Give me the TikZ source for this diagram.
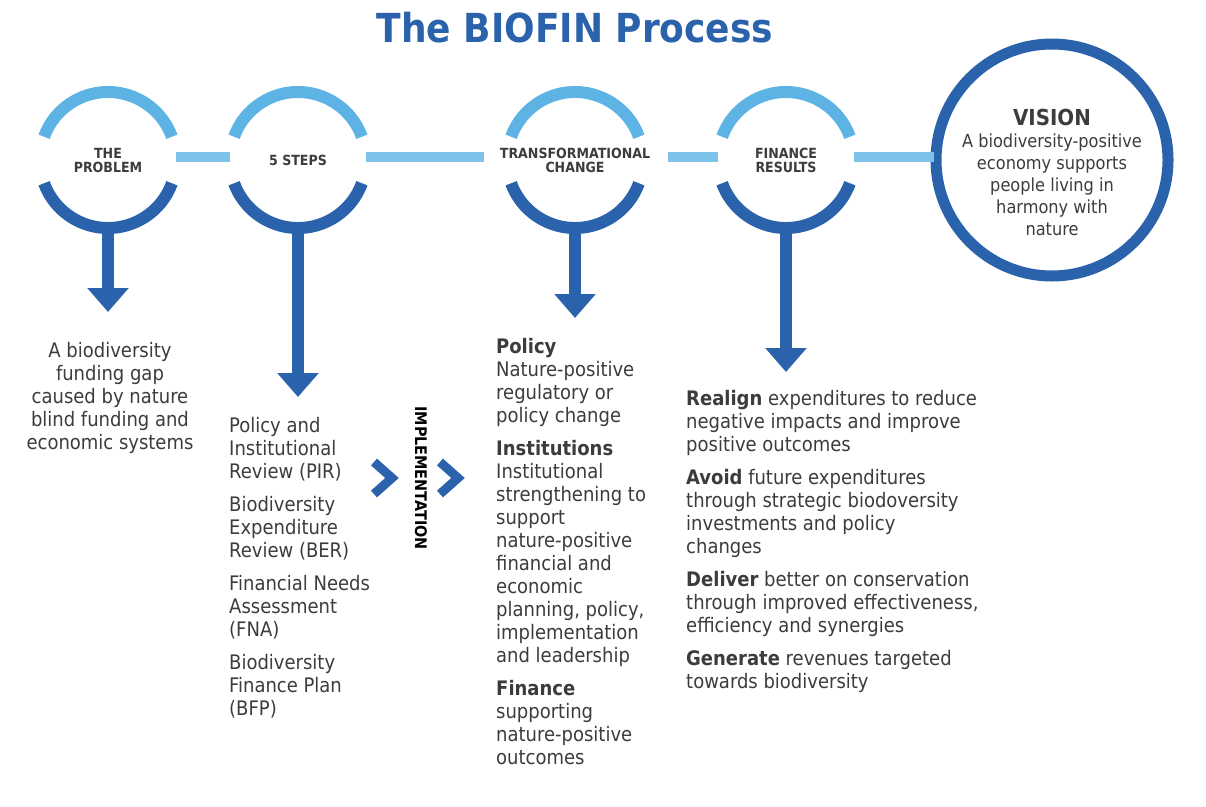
\documentclass[tikz,border=0pt]{standalone}
\usepackage{fontspec}
\setmainfont{DejaVu Sans Condensed}
\usetikzlibrary{arrows.meta}
\definecolor{dblue}{HTML}{2A62AC}
\definecolor{lblue}{HTML}{5DB3E4}
\definecolor{tgray}{HTML}{3C3C3C}
\tikzset{
  toparc/.style={line width=12pt, lblue},
  botarc/.style={line width=12pt, dblue},
  link/.style={line width=10pt, lblue!80},
  down/.style={line width=12pt, dblue, -{Triangle[width=40pt,length=24pt]}},
  body/.style={text=tgray, align=left, anchor=north west, inner sep=0pt,
    font=\fontsize{20}{23}\selectfont},
  lab/.style={text=tgray, align=center, font=\bfseries\fontsize{14}{14}\selectfont},
  chev/.style={line width=9pt, dblue}
}
\newcommand{\stage}[3]{% center name, x, label
  \coordinate (#1) at (#2,160);
  \draw[botarc] (#2,160) ++(20:68) arc (20:160:68);
  \draw[toparc] (#2,160) ++(200:68) arc (200:340:68);
  \node[lab] (#1l) at (#2,160) {#3};
  \coordinate (#1b) at (#2,228);
}
\begin{document}
\begin{tikzpicture}[x=1pt,y=-1pt]
\useasboundingbox (0,0) rectangle (1206,806);
\node[text=dblue, font=\bfseries\fontsize{40}{40}\selectfont] (title) at (575,28) {The BIOFIN Process};
% circles
\stage{prob}{108}{THE\\PROBLEM}
\stage{steps}{298}{5 STEPS}
\stage{trans}{575}{TRANSFORMATIONAL\\CHANGE}
\stage{fin}{786}{FINANCE\\RESULTS}
\draw[line width=11pt, dblue] (1052,160) circle (116);
\coordinate (vis) at (1052,160);
\node[text=tgray, align=center, font=\fontsize{18}{22}\selectfont] (visl) at (1052,172)
  {{\bfseries\fontsize{22}{24}\selectfont VISION}\\A biodiversity-positive\\economy supports\\people living in\\harmony with\\nature};
% links
\draw[link] (176,157) -- (230,157);
\draw[link] (366,157) -- (484,157);
\draw[link] (668,157) -- (718,157);
\draw[link] (854,157) -- (934,157);
% arrows
\coordinate (probe) at (108,312);
\coordinate (stepse) at (298,397);
\coordinate (transe) at (575,318);
\coordinate (fine) at (786,372);
\draw[down] (probb) -- (probe);
\draw[down] (stepsb) -- (stepse);
\draw[down] (transb) -- (transe);
\draw[down] (finb) -- (fine);
% implementation
\draw[chev] (374,462) -- (392,478) -- (374,494);
\draw[chev] (440,462) -- (458,478) -- (440,494);
\node[rotate=-90, font=\bfseries\fontsize{16}{16}\selectfont, text=black] (impl) at (421,478) {IMPLEMENTATION};
% texts
\node[body, align=center, anchor=north] (probt) at (110,342)
  {A biodiversity\\funding gap\\caused by nature\\blind funding and\\economic systems};
\node[body] (stepst) at (229,417)
  {Policy and\\Institutional\\Review (PIR)\\[10pt]Biodiversity\\Expenditure\\Review (BER)\\[10pt]Financial Needs\\Assessment\\(FNA)\\[10pt]Biodiversity\\Finance Plan\\(BFP)};
\node[body] (transt) at (496,338)
  {\textbf{Policy}\\Nature-positive\\regulatory or\\policy change\\[10pt]\textbf{Institutions}\\Institutional\\strengthening to\\support\\nature-positive\\financial and\\economic\\planning, policy,\\implementation\\and leadership\\[10pt]\textbf{Finance}\\supporting\\nature-positive\\outcomes};
\node[body] (fint) at (686,390)
  {\textbf{Realign} expenditures to reduce\\negative impacts and improve\\positive outcomes\\[10pt]\textbf{Avoid} future expenditures\\through strategic biodoversity\\investments and policy\\changes\\[10pt]\textbf{Deliver} better on conservation\\through improved effectiveness,\\efficiency and synergies\\[10pt]\textbf{Generate} revenues targeted\\towards biodiversity};
\end{tikzpicture}
\end{document}
